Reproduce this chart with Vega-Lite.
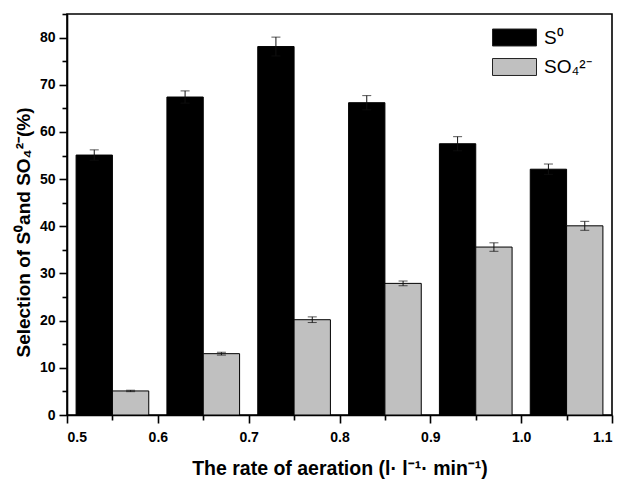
{
  "$schema": "https://vega.github.io/schema/vega-lite/v6.json",
  "width": 545,
  "height": 401,
  "autosize": {"type": "none"},
  "padding": {"left": 67, "top": 14, "right": 12, "bottom": 65},
  "background": "white",
  "config": {
    "view": {"stroke": "black", "strokeWidth": 1.6},
    "font": "Liberation Sans",
    "axis": {
      "domainColor": "black", "domainWidth": 1.6, "tickColor": "black", "tickWidth": 1.6,
      "labelFont": "Liberation Sans", "labelFontWeight": "bold", "labelFontSize": 14, "labelColor": "black",
      "titleFont": "Liberation Sans", "titleFontWeight": "bold", "titleFontSize": 19, "titleColor": "black",
      "grid": false
    }
  },
  "data": {"values": [
    {"rate": 0.55, "species": "S⁰", "value": 55.1, "err": 1.1},
    {"rate": 0.55, "species": "SO₄²⁻", "value": 5.1, "err": 0.15},
    {"rate": 0.65, "species": "S⁰", "value": 67.4, "err": 1.3},
    {"rate": 0.65, "species": "SO₄²⁻", "value": 13.0, "err": 0.3},
    {"rate": 0.75, "species": "S⁰", "value": 78.1, "err": 2.0},
    {"rate": 0.75, "species": "SO₄²⁻", "value": 20.2, "err": 0.6},
    {"rate": 0.85, "species": "S⁰", "value": 66.2, "err": 1.5},
    {"rate": 0.85, "species": "SO₄²⁻", "value": 27.9, "err": 0.5},
    {"rate": 0.95, "species": "S⁰", "value": 57.5, "err": 1.5},
    {"rate": 0.95, "species": "SO₄²⁻", "value": 35.6, "err": 0.9},
    {"rate": 1.05, "species": "S⁰", "value": 52.1, "err": 1.1},
    {"rate": 1.05, "species": "SO₄²⁻", "value": 40.1, "err": 0.95}
  ]},
  "transform": [
    {"calculate": "datum.species === 'S⁰' ? datum.rate - 0.04 : datum.rate", "as": "x0"},
    {"calculate": "datum.x0 + 0.04", "as": "x1"},
    {"calculate": "datum.x0 + 0.02", "as": "xc"},
    {"calculate": "datum.value - datum.err", "as": "lo"},
    {"calculate": "datum.value + datum.err", "as": "hi"}
  ],
  "layer": [
    {
      "mark": {"type": "bar", "stroke": "black", "strokeWidth": 1},
      "encoding": {
        "x": {"field": "x0", "type": "quantitative",
          "scale": {"domain": [0.5, 1.1], "nice": false, "zero": false},
          "axis": {"orient": "bottom", "values": [0.5, 0.6, 0.7, 0.8, 0.9, 1.0, 1.1], "format": ".1f", "tickSize": 8, "labelPadding": 7,
            "title": "The rate of aeration (l· l⁻¹· min⁻¹)", "titlePadding": 15, "titleFontSize": 19.5}},
        "x2": {"field": "x1"},
        "y": {"field": "value", "type": "quantitative",
          "scale": {"domain": [0, 85], "nice": false},
          "axis": {"orient": "left", "values": [0, 10, 20, 30, 40, 50, 60, 70, 80], "tickSize": 8, "labelPadding": 4,
            "title": "Selection of S⁰and SO₄²⁻(%)", "titleX": -34, "titleY": 218}},
        "y2": {"datum": 0},
        "color": {"field": "species", "type": "nominal",
          "scale": {"domain": ["S⁰", "SO₄²⁻"], "range": ["#000000", "#c0c0c0"]},
          "legend": {"orient": "none", "legendX": 436, "legendY": 12, "title": null,
            "symbolType": "M-2,-0.77H2V0.77H-2Z", "symbolSize": 484,
            "symbolStrokeColor": "#222", "symbolStrokeWidth": 1, "symbolOpacity": 1,
            "labelFontSize": 19, "labelFont": "Liberation Sans", "labelColor": "black",
            "rowPadding": 7.5, "labelOffset": 18}}
      }
    },
    {
      "mark": {"type": "rule", "strokeWidth": 1, "color": "#111"},
      "encoding": {
        "x": {"field": "xc", "type": "quantitative", "axis": null},
        "y": {"field": "lo", "type": "quantitative", "axis": null},
        "y2": {"field": "hi"}
      }
    },
    {
      "mark": {"type": "tick", "orient": "horizontal", "size": 9, "thickness": 1, "color": "#111"},
      "encoding": {
        "x": {"field": "xc", "type": "quantitative", "axis": null},
        "y": {"field": "hi", "type": "quantitative", "axis": null}
      }
    },
    {
      "mark": {"type": "tick", "orient": "horizontal", "size": 9, "thickness": 1, "color": "#111"},
      "encoding": {
        "x": {"field": "xc", "type": "quantitative", "axis": null},
        "y": {"field": "lo", "type": "quantitative", "axis": null}
      }
    },
    {
      "mark": {"type": "point", "opacity": 0},
      "encoding": {
        "x": {"field": "rate", "type": "quantitative",
          "axis": {"orient": "bottom", "values": [0.55, 0.65, 0.75, 0.85, 0.95, 1.05], "labels": false, "tickSize": 5, "domain": false, "title": null}},
        "y": {"field": "value", "type": "quantitative",
          "axis": {"orient": "left", "values": [5, 15, 25, 35, 45, 55, 65, 75, 85], "labels": false, "tickSize": 5, "domain": false, "title": null}}
      }
    }
  ],
  "resolve": {"axis": {"x": "independent", "y": "independent"}}
}
